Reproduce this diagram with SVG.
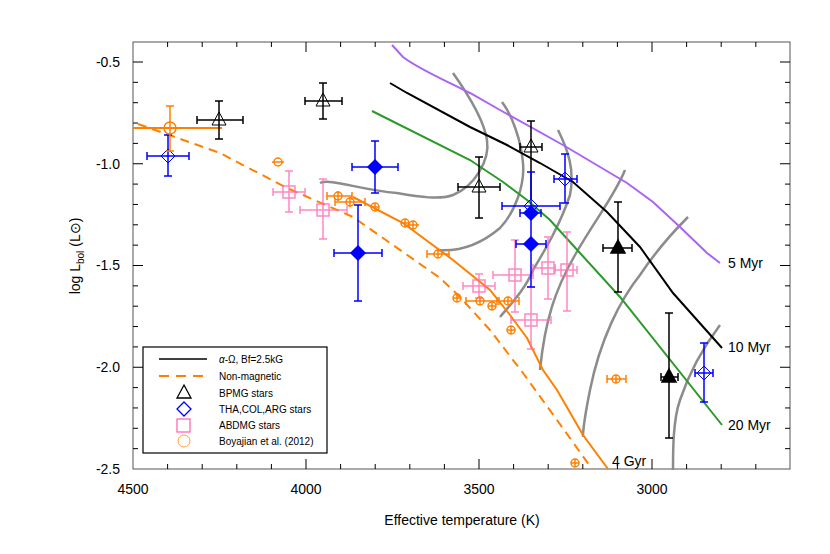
<svg xmlns="http://www.w3.org/2000/svg" width="830" height="554" viewBox="0 0 830 554">
<style>
text{font-family:"Liberation Sans",Arial,sans-serif;fill:#000}
.tk{font-size:14px}
.g{fill:none;stroke:#8c8c8c;stroke-width:2.5}
.eb{fill:none;stroke-width:1.5}
.k{stroke:#000}.b{stroke:#0000ff}.p{stroke:#ff69b4}.o{stroke:#ff8000}
</style>
<defs>
<path id="tri" d="M0,-8 L7,5 L-7,5 Z"/>
<path id="dia" d="M0,-7 L7,0 L0,7 L-7,0 Z"/>
<rect id="sq" x="-6" y="-6" width="12" height="12"/>
</defs>
<rect width="830" height="554" fill="#fff"/>
<g id="axes" stroke="#000" fill="none" stroke-width="1">
<rect x="133" y="42" width="657" height="427" stroke="#555"/>
<path d="M306,469v-10M479,469v-10M652,469v-10M306,42v10M479,42v10M652,42v10
M167.6,469v-5M202.2,469v-5M236.8,469v-5M271.4,469v-5M340.6,469v-5M375.2,469v-5M409.8,469v-5M444.4,469v-5M513.6,469v-5M548.2,469v-5M582.8,469v-5M617.4,469v-5M686.6,469v-5M721.2,469v-5M755.8,469v-5
M167.6,42v5M202.2,42v5M236.8,42v5M271.4,42v5M340.6,42v5M375.2,42v5M409.8,42v5M444.4,42v5M513.6,42v5M548.2,42v5M582.8,42v5M617.4,42v5M686.6,42v5M721.2,42v5M755.8,42v5
M133,62h10M133,163.75h10M133,265.5h10M133,367.25h10M790,62h-10M790,163.75h-10M790,265.5h-10M790,367.25h-10
M133,82.35h5M133,102.7h5M133,123.05h5M133,143.4h5M133,184.1h5M133,204.45h5M133,224.8h5M133,245.15h5M133,285.85h5M133,306.2h5M133,326.55h5M133,346.9h5M133,387.6h5M133,407.95h5M133,428.3h5M133,448.65h5
M790,82.35h-5M790,102.7h-5M790,123.05h-5M790,143.4h-5M790,184.1h-5M790,204.45h-5M790,224.8h-5M790,245.15h-5M790,285.85h-5M790,306.2h-5M790,326.55h-5M790,346.9h-5M790,387.6h-5M790,407.95h-5M790,428.3h-5M790,448.65h-5"/>
</g>
<g id="ticklabels" class="tk">
<text x="133" y="494" text-anchor="middle">4500</text>
<text x="306" y="494" text-anchor="middle">4000</text>
<text x="479" y="494" text-anchor="middle">3500</text>
<text x="652" y="494" text-anchor="middle">3000</text>
<text x="120" y="67" text-anchor="end">-0.5</text>
<text x="120" y="169" text-anchor="end">-1.0</text>
<text x="120" y="270" text-anchor="end">-1.5</text>
<text x="120" y="372" text-anchor="end">-2.0</text>
<text x="120" y="474" text-anchor="end">-2.5</text>
<text x="462" y="525" text-anchor="middle">Effective temperature (K)</text>
<text transform="translate(80,256) rotate(-90)" text-anchor="middle">log L<tspan font-size="10" dy="4">bol</tspan><tspan dy="-4"> (L</tspan><tspan>⊙</tspan>)</text>
</g>
<g id="curves" fill="none">
<path class="g" d="M320,183 C330,178 360,190 397,193 C420,197 440,200 453,195 C475,186 490,160 487,140 C484,120 465,90 453,73"/>
<path class="g" d="M437,250 C460,252 480,245 500,228 C515,212 525,185 523,163 C521,140 512,115 502,102"/>
<path class="g" d="M558,130 C568,150 575,170 570,195 C560,225 545,250 533,270 C525,290 510,305 500,317"/>
<path class="g" d="M625,170 C615,195 595,220 575,255 C555,290 545,320 540,370"/>
<path class="g" d="M688,217 C665,240 650,260 640,275 C620,300 600,340 590,390 C585,415 583,430 583,437"/>
<path class="g" d="M720,325 C705,345 690,370 680,400 C673,420 673,450 673,470"/>
<path stroke="#a964f5" stroke-width="2" d="M392,45 L403,57 C420,70 445,80 470,93 L500,110 L563,145 L627,183 L653,202 L680,227 L707,253 L720,263"/>
<path stroke="#000" stroke-width="2" d="M390,83 L407,93 L470,127 L507,145 L540,163 L573,182 L607,212 L640,247 L673,293 L722,348"/>
<path stroke="#2a9a2a" stroke-width="2" d="M372,111 L470,160 L503,182 L527,200 L550,220 L580,253 L620,297 L722,425"/>
<path stroke="#ff8000" stroke-width="2" d="M353,197 L403,223 L453,260 L490,290 L510,315 L527,338 L543,370 L557,390 L583,435 L608,469"/>
<path stroke="#ff8000" stroke-width="2" stroke-dasharray="9,6" d="M138,124 L220,153 L287,188 L353,217 L440,278 L460,297 L490,330 L523,373 L557,420 L592,469"/>
<path stroke="#ff8000" stroke-width="2" d="M133,128 H222"/>
</g>
<g id="labels" font-size="14">
<text x="728" y="268">5 Myr</text>
<text x="728" y="352">10 Myr</text>
<text x="728" y="430">20 Myr</text>
<text x="612" y="466">4 Gyr</text>
</g>
<g id="bpmg" class="eb k">
<path d="M197,120H243M197,116v8M243,116v8M219,101V139M215,101h8M215,139h8"/><use href="#tri" x="219" y="120" stroke-width="1"/>
<path d="M305,101H342M305,97v8M342,97v8M323,83V119M319,83h8M319,119h8"/><use href="#tri" x="323" y="101" stroke-width="1"/>
<path d="M458,187H500M458,183v8M500,183v8M479,157V218M475,157h8M475,218h8"/><use href="#tri" x="479" y="187" stroke-width="1"/>
<path d="M520,147H542M520,143v8M542,143v8M531,121V200M527,121h8"/><use href="#tri" x="531" y="147" stroke-width="1"/>
<path d="M603,248H632M603,244v8M632,244v8M618,202V292M614,202h8M614,292h8"/><use href="#tri" x="618" y="248" fill="#000"/>
<path d="M661,377H678M661,373v8M678,373v8M669,313V438M665,313h8M665,438h8"/><use href="#tri" x="669" y="377" fill="#000"/>
</g>
<g id="abdmg" class="eb p" stroke-width="1.2" opacity="0.8">
<path d="M273,192H305M273,188v8M305,188v8M289,171V212M285,171h8M285,212h8"/><use href="#sq" x="289" y="192"/>
<path d="M300,210H347M300,206v8M347,206v8M323,179V239M319,179h8M319,239h8"/><use href="#sq" x="323" y="210"/>
<path d="M463,286H495M463,282v8M495,282v8M479,274V298M475,274h8M475,298h8"/><use href="#sq" x="479" y="286"/>
<path d="M493,275H533M493,271v8M533,271v8M515,240V312M511,240h8M511,312h8"/><use href="#sq" x="515" y="275"/>
<path d="M533,268H555M533,264v8M555,264v8M548,237V299M544,237h8M544,299h8"/><use href="#sq" x="548" y="268"/>
<path d="M555,270H577M555,266v8M577,266v8M567,232V311M563,232h8M563,311h8"/><use href="#sq" x="567" y="270"/>
<path d="M511,320H551M511,316v8M551,316v8M531,287V349M527,287h8M527,349h8"/><use href="#sq" x="531" y="320"/>
</g>
<g id="tha" class="eb b">
<path d="M147,156H189M147,152v8M189,152v8M168,135V176M164,135h8M164,176h8"/><use href="#dia" x="168" y="156" stroke-width="1"/>
<path d="M352,167H398M352,163v8M398,163v8M375,141V193M371,141h8M371,193h8"/><use href="#dia" x="375" y="167" fill="#0000ff"/>
<path d="M334,253H382M334,249v8M382,249v8M358,205V301M354,205h8M354,301h8"/><use href="#dia" x="358" y="253" fill="#0000ff"/>
<path d="M554,179H577M554,175v8M577,175v8M565,154V203M561,154h8M561,203h8"/><use href="#dia" x="565" y="179" stroke-width="1"/>
<path d="M502,206H560M502,202v8M560,202v8M531,172V287M527,172h8M527,287h8"/><use href="#dia" x="531" y="206" stroke-width="1"/>
<path d="M520,213H541M520,209v8M541,209v8"/><use href="#dia" x="531" y="213" fill="#0000ff"/>
<path d="M516,244H546M516,240v8M546,240v8"/><use href="#dia" x="531" y="244" fill="#0000ff"/>
<path d="M695,373H713M695,369v8M713,369v8M704,343V402M700,343h8M700,402h8"/><use href="#dia" x="704" y="373" stroke-width="1"/>
</g>
<g id="boyajian" class="eb o" stroke-width="1.3">
<circle cx="170" cy="128" r="6"/><path d="M170,106V151M166,106h8M166,151h8"/>
<circle cx="278" cy="162" r="4"/><path d="M272,162h12"/>
<circle cx="338" cy="196" r="4"/><path d="M327,196H352M327,192v8M352,192v8M338,191v10"/>
<circle cx="350" cy="202" r="4"/><path d="M335,202H365M335,198v8M365,198v8M350,197v10"/>
<circle cx="375" cy="207" r="4"/><path d="M371,207h8M375,203v8"/>
<circle cx="405" cy="223" r="4"/><path d="M401,223h8M405,219v8"/>
<circle cx="413" cy="225" r="4"/><path d="M407,225h12M413,221v8"/>
<circle cx="438" cy="254" r="4"/><path d="M427,254H449M427,250v8M449,250v8M438,250v8"/>
<circle cx="457" cy="298" r="4"/><path d="M453,298h8M457,294v8"/>
<circle cx="480" cy="301" r="4"/><path d="M466,301H497M466,297v8M497,297v8M480,297v8"/>
<circle cx="492" cy="306" r="4"/><path d="M488,306h8M492,302v8"/>
<circle cx="508" cy="301" r="4"/><path d="M499,301H519M499,297v8M519,297v8M508,297v8"/>
<circle cx="511" cy="330" r="4"/><path d="M507,330h8M511,326v8"/>
<circle cx="575" cy="463" r="4"/><path d="M571,463h8M575,459v8"/>
<circle cx="616" cy="379" r="4"/><path d="M607,379H626M607,375v8M626,375v8M616,375v8"/>
</g>
<g id="legend" font-size="10">
<rect x="143" y="347" width="184" height="106" fill="#fff" stroke="#000" stroke-width="1.2"/>
<path d="M159,359H207" stroke="#000" stroke-width="1.5"/>
<path d="M159,376H207" stroke="#ff8000" stroke-width="2" stroke-dasharray="10,7"/>
<use href="#tri" x="184" y="393" fill="none" stroke="#000" stroke-width="1.3"/>
<use href="#dia" x="184" y="409" fill="none" stroke="#0000ff" stroke-width="1.3"/>
<rect x="177" y="419" width="13" height="13" fill="none" stroke="#ff69b4" stroke-width="1.3"/>
<circle cx="184" cy="441" r="6" fill="none" stroke="#ffa040" stroke-width="1"/>
<text x="219" y="363"><tspan font-style="italic">α</tspan>-Ω, Bf=2.5kG</text>
<text x="219" y="380">Non-magnetic</text>
<text x="219" y="397">BPMG stars</text>
<text x="219" y="413">THA,COL,ARG stars</text>
<text x="219" y="429">ABDMG stars</text>
<text x="219" y="445">Boyajian et al. (2012)</text>
</g>
</svg>
